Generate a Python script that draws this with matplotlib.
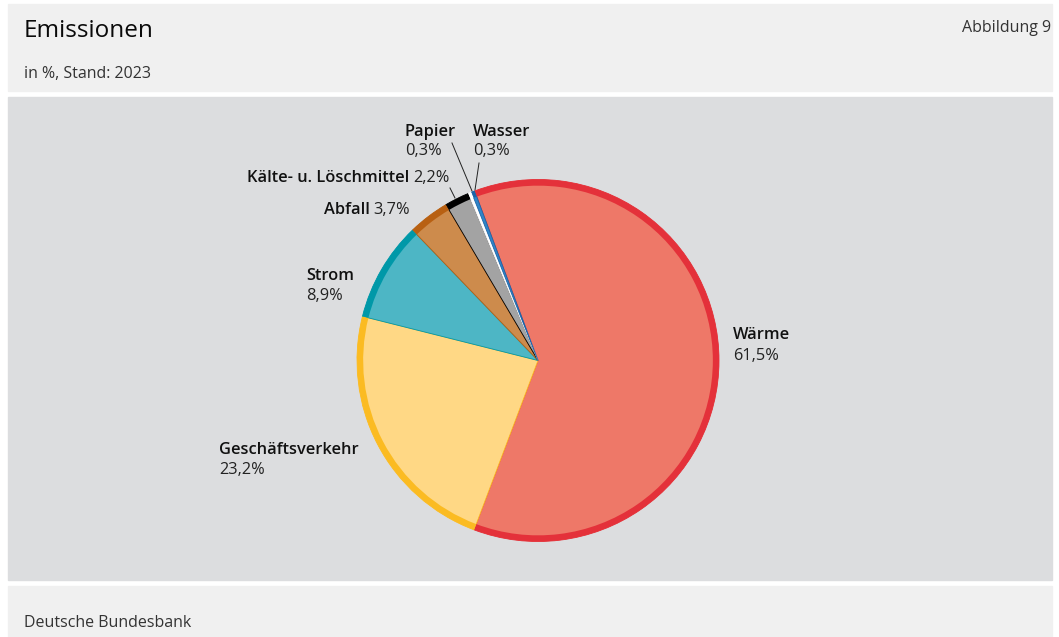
import matplotlib.pyplot as plt
from matplotlib.patches import Rectangle

plt.rcParams['font.family'] = ['Open Sans', 'DejaVu Sans']

# Anteile der Emissionen in %, Stand 2023
kategorien = ['Wärme', 'Geschäftsverkehr', 'Strom', 'Abfall',
              'Kälte- u. Löschmittel', 'Papier', 'Wasser']
anteile = [61.5, 23.2, 8.9, 3.7, 2.2, 0.3, 0.3]
beschriftung = ['61,5%', '23,2%', '8,9%', '3,7%', '2,2%', '0,3%', '0,3%']

fuellung = ['#ee7868', '#ffd885', '#4db6c5', '#cd8b4c', '#a3a3a3', '#ffffff', '#2f86c8']
rand = ['#e4313a', '#fbbb22', '#0098a8', '#b86012', '#000000', '#ffffff', '#1d64a8']

W, H = 1059, 637
fig = plt.figure(figsize=(W / 100, H / 100), dpi=100)
fig.patch.set_facecolor('white')


def fx(x):
    return x / W


def fy(y):
    return 1 - y / H


# Hintergrundflächen: Kopf, Grafik, Fuß
for top, bottom, col in [(4, 91, '#f0f0f0'), (97, 580, '#dcdddf'), (586, 637, '#f0f0f0')]:
    fig.patches.append(Rectangle((fx(8), fy(bottom)), fx(1052) - fx(8), fy(top) - fy(bottom),
                                 transform=fig.transFigure, color=col, zorder=0))

fig.text(fx(24), fy(31), 'Emissionen', fontsize=17.5, va='center', color='#0a0a0a')
fig.text(fx(24), fy(74), 'in %, Stand: 2023', fontsize=11.5, va='center', color='#333333')
fig.text(fx(1051), fy(28), 'Abbildung 9', fontsize=11.5, va='center', ha='right', color='#333333')
fig.text(fx(24), fy(623), 'Deutsche Bundesbank', fontsize=11.5, va='center', color='#333333')

# Tortendiagramm, Mittelpunkt (538, 360), Radius 181 px
cx, cy, r = 538, 360.5, 181
ax = fig.add_axes([fx(cx - r), fy(cy + r), 2 * r / W, 2 * r / H], zorder=2)
ax.patch.set_alpha(0)

start = 110.5
wedges, _ = ax.pie(anteile, colors=fuellung, startangle=start, counterclock=False,
                   radius=1, wedgeprops=dict(linewidth=0))
for w, c in zip(wedges, rand):
    w.set_edgecolor(c)
    w.set_linewidth(0.6)
ax.pie(anteile, colors=rand, startangle=start, counterclock=False, radius=1,
       wedgeprops=dict(width=0.034, linewidth=0))
ax.set_xlim(-1, 1)
ax.set_ylim(-1, 1)
ax.set_aspect('equal')
ax.axis('off')

FS = 11.8


# Beschriftungen
def label(x, y, name, wert, inline=False):
    y += 1.5
    if inline:
        t = fig.text(fx(x), fy(y), wert, fontsize=FS, ha='right', va='center', color='#222222')
        fig.canvas.draw()
        bb = t.get_window_extent()
        fig.text((bb.x0 - 4) / W, fy(y), name, fontsize=FS, weight='semibold',
                 ha='right', va='center', color='#111111')
    else:
        fig.text(fx(x), fy(y), name, fontsize=FS, weight='semibold', va='center', color='#111111')
        fig.text(fx(x), fy(y + 20), wert, fontsize=FS, va='center', color='#222222')


label(733, 334, kategorien[0], beschriftung[0])
label(219, 449, kategorien[1], beschriftung[1])
label(306, 275, kategorien[2], beschriftung[2])
label(410, 208, kategorien[3], beschriftung[3], inline=True)
label(450, 177, kategorien[4], beschriftung[4], inline=True)
label(405, 130, kategorien[5], beschriftung[5])
label(473, 130, kategorien[6], beschriftung[6])

# Hinweislinien zu den kleinen Segmenten
for (x0, y0), (x1, y1) in [((452, 143), (472, 191)),
                           ((479, 163), (475, 190)),
                           ((450, 188), (455, 198))]:
    fig.add_artist(plt.Line2D([fx(x0), fx(x1)], [fy(y0), fy(y1)],
                              transform=fig.transFigure, color='#222222', lw=0.7))

fig.savefig('out.png', dpi=100)
